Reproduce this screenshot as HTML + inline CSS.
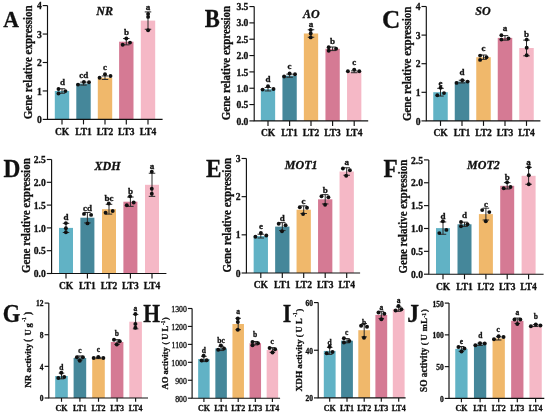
<!DOCTYPE html>
<html><head><meta charset="utf-8"><style>
html,body{margin:0;padding:0;background:#fff;}
svg{display:block;will-change:transform;}
text{font-family:"Liberation Serif",serif;stroke:#111;stroke-width:0.3px;}
</style></head><body>
<svg width="550" height="414" viewBox="0 0 550 414">
<rect width="550" height="414" fill="#fff"/>
<rect x="54.80" y="91.00" width="14.40" height="28.40" fill="#61b2c5"/>
<rect x="76.30" y="83.60" width="14.40" height="35.80" fill="#45879a"/>
<rect x="97.80" y="77.70" width="14.40" height="41.70" fill="#f0b86b"/>
<rect x="119.10" y="41.70" width="14.40" height="77.70" fill="#d57a94"/>
<rect x="140.80" y="20.60" width="14.40" height="98.80" fill="#f5b8c6"/>
<path d="M62.00,88.75V93.25M58.75,88.75H65.25M58.75,93.25H65.25" stroke="#2a2a2a" stroke-width="1.0" fill="none"/>
<circle cx="58.50" cy="89.00" r="1.95" fill="#111"/>
<circle cx="58.50" cy="93.50" r="1.95" fill="#111"/>
<circle cx="65.40" cy="91.10" r="1.95" fill="#111"/>
<path d="M83.50,82.12V85.08M80.25,82.12H86.75M80.25,85.08H86.75" stroke="#2a2a2a" stroke-width="1.0" fill="none"/>
<circle cx="78.00" cy="84.60" r="1.95" fill="#111"/>
<circle cx="83.90" cy="81.90" r="1.95" fill="#111"/>
<circle cx="89.00" cy="82.20" r="1.95" fill="#111"/>
<path d="M105.00,75.95V79.45M101.75,75.95H108.25M101.75,79.45H108.25" stroke="#2a2a2a" stroke-width="1.0" fill="none"/>
<circle cx="99.60" cy="77.70" r="1.95" fill="#111"/>
<circle cx="105.00" cy="74.20" r="1.95" fill="#111"/>
<circle cx="110.50" cy="76.00" r="1.95" fill="#111"/>
<path d="M126.30,38.55V44.85M123.05,38.55H129.55M123.05,44.85H129.55" stroke="#2a2a2a" stroke-width="1.0" fill="none"/>
<circle cx="122.70" cy="44.70" r="1.95" fill="#111"/>
<circle cx="126.30" cy="38.50" r="1.95" fill="#111"/>
<circle cx="130.00" cy="42.60" r="1.95" fill="#111"/>
<path d="M148.00,11.92V29.28M144.75,11.92H151.25M144.75,29.28H151.25" stroke="#2a2a2a" stroke-width="1.0" fill="none"/>
<circle cx="148.10" cy="13.90" r="1.95" fill="#111"/>
<circle cx="148.10" cy="16.90" r="1.95" fill="#111"/>
<circle cx="148.10" cy="30.20" r="1.95" fill="#111"/>
<text x="62.40" y="85.00" font-size="9" font-weight="bold" font-style="normal" text-anchor="middle" fill="#111" >d</text>
<text x="83.70" y="78.30" font-size="9" font-weight="bold" font-style="normal" text-anchor="middle" fill="#111" >cd</text>
<text x="105.00" y="70.40" font-size="9" font-weight="bold" font-style="normal" text-anchor="middle" fill="#111" >c</text>
<text x="126.60" y="35.10" font-size="9" font-weight="bold" font-style="normal" text-anchor="middle" fill="#111" >b</text>
<text x="148.00" y="10.00" font-size="9" font-weight="bold" font-style="normal" text-anchor="middle" fill="#111" >a</text>
<path d="M47.50,5.60V119.40H162.60" stroke="#111" stroke-width="1.15" fill="none"/>
<path d="M42.70,119.40H47.50" stroke="#111" stroke-width="1.15"/>
<text x="41.70" y="123.00" font-size="9.6" font-weight="bold" font-style="normal" text-anchor="end" fill="#111" >0</text>
<path d="M42.70,90.95H47.50" stroke="#111" stroke-width="1.15"/>
<text x="41.70" y="94.55" font-size="9.6" font-weight="bold" font-style="normal" text-anchor="end" fill="#111" >1</text>
<path d="M42.70,62.50H47.50" stroke="#111" stroke-width="1.15"/>
<text x="41.70" y="66.10" font-size="9.6" font-weight="bold" font-style="normal" text-anchor="end" fill="#111" >2</text>
<path d="M42.70,34.05H47.50" stroke="#111" stroke-width="1.15"/>
<text x="41.70" y="37.65" font-size="9.6" font-weight="bold" font-style="normal" text-anchor="end" fill="#111" >3</text>
<path d="M42.70,5.60H47.50" stroke="#111" stroke-width="1.15"/>
<text x="41.70" y="9.20" font-size="9.6" font-weight="bold" font-style="normal" text-anchor="end" fill="#111" >4</text>
<path d="M62.00,119.40V124.40" stroke="#111" stroke-width="1.15"/>
<text x="62.00" y="135.00" font-size="9.5" font-weight="bold" font-style="normal" text-anchor="middle" fill="#111" >CK</text>
<path d="M83.50,119.40V124.40" stroke="#111" stroke-width="1.15"/>
<text x="83.50" y="135.00" font-size="9.5" font-weight="bold" font-style="normal" text-anchor="middle" fill="#111" >LT1</text>
<path d="M105.00,119.40V124.40" stroke="#111" stroke-width="1.15"/>
<text x="105.00" y="135.00" font-size="9.5" font-weight="bold" font-style="normal" text-anchor="middle" fill="#111" >LT2</text>
<path d="M126.30,119.40V124.40" stroke="#111" stroke-width="1.15"/>
<text x="126.30" y="135.00" font-size="9.5" font-weight="bold" font-style="normal" text-anchor="middle" fill="#111" >LT3</text>
<path d="M148.00,119.40V124.40" stroke="#111" stroke-width="1.15"/>
<text x="148.00" y="135.00" font-size="9.5" font-weight="bold" font-style="normal" text-anchor="middle" fill="#111" >LT4</text>
<text x="104.60" y="14.70" font-size="12" font-weight="bold" font-style="italic" text-anchor="middle" fill="#111" >NR</text>
<text transform="translate(3.23,27.20) scale(0.918,1)" x="0" y="0" font-size="23.79" font-weight="bold" fill="#111">A</text>
<g transform="translate(32.00,62.30) rotate(-90)">
<text x="0" y="0" font-size="12.4" font-weight="bold" text-anchor="middle" textLength="113.8" lengthAdjust="spacingAndGlyphs" fill="#111">Gene relative expression</text>
</g>
<rect x="260.85" y="89.20" width="14.30" height="31.70" fill="#61b2c5"/>
<rect x="282.45" y="75.70" width="14.30" height="45.20" fill="#45879a"/>
<rect x="303.85" y="33.50" width="14.30" height="87.40" fill="#f0b86b"/>
<rect x="325.45" y="48.80" width="14.30" height="72.10" fill="#d57a94"/>
<rect x="347.05" y="71.80" width="14.30" height="49.10" fill="#f5b8c6"/>
<path d="M268.00,87.44V90.96M264.75,87.44H271.25M264.75,90.96H271.25" stroke="#2a2a2a" stroke-width="1.0" fill="none"/>
<circle cx="262.60" cy="89.60" r="1.95" fill="#111"/>
<circle cx="268.00" cy="86.30" r="1.95" fill="#111"/>
<circle cx="273.50" cy="89.00" r="1.95" fill="#111"/>
<path d="M289.60,74.15V77.25M286.35,74.15H292.85M286.35,77.25H292.85" stroke="#2a2a2a" stroke-width="1.0" fill="none"/>
<circle cx="284.10" cy="76.50" r="1.95" fill="#111"/>
<circle cx="289.60" cy="73.50" r="1.95" fill="#111"/>
<circle cx="295.00" cy="74.30" r="1.95" fill="#111"/>
<path d="M311.00,29.75V37.25M307.75,29.75H314.25M307.75,37.25H314.25" stroke="#2a2a2a" stroke-width="1.0" fill="none"/>
<circle cx="310.70" cy="29.90" r="1.95" fill="#111"/>
<circle cx="310.70" cy="33.50" r="1.95" fill="#111"/>
<circle cx="310.70" cy="37.40" r="1.95" fill="#111"/>
<path d="M332.60,47.00V50.60M329.35,47.00H335.85M329.35,50.60H335.85" stroke="#2a2a2a" stroke-width="1.0" fill="none"/>
<circle cx="328.70" cy="47.20" r="1.95" fill="#111"/>
<circle cx="328.70" cy="50.80" r="1.95" fill="#111"/>
<circle cx="336.10" cy="48.80" r="1.95" fill="#111"/>
<path d="M354.20,70.88V72.72M350.95,70.88H357.45M350.95,72.72H357.45" stroke="#2a2a2a" stroke-width="1.0" fill="none"/>
<circle cx="347.90" cy="71.20" r="1.95" fill="#111"/>
<circle cx="354.20" cy="69.60" r="1.95" fill="#111"/>
<circle cx="359.30" cy="71.20" r="1.95" fill="#111"/>
<text x="268.00" y="81.60" font-size="9" font-weight="bold" font-style="normal" text-anchor="middle" fill="#111" >d</text>
<text x="289.60" y="68.60" font-size="9" font-weight="bold" font-style="normal" text-anchor="middle" fill="#111" >c</text>
<text x="311.00" y="26.80" font-size="9" font-weight="bold" font-style="normal" text-anchor="middle" fill="#111" >a</text>
<text x="332.60" y="44.00" font-size="9" font-weight="bold" font-style="normal" text-anchor="middle" fill="#111" >b</text>
<text x="354.20" y="64.90" font-size="9" font-weight="bold" font-style="normal" text-anchor="middle" fill="#111" >c</text>
<path d="M254.20,6.56V120.90H368.20" stroke="#111" stroke-width="1.15" fill="none"/>
<path d="M249.40,120.90H254.20" stroke="#111" stroke-width="1.15"/>
<text x="248.40" y="124.50" font-size="9.6" font-weight="bold" font-style="normal" text-anchor="end" fill="#111" >0.0</text>
<path d="M249.40,104.56H254.20" stroke="#111" stroke-width="1.15"/>
<text x="248.40" y="108.16" font-size="9.6" font-weight="bold" font-style="normal" text-anchor="end" fill="#111" >0.5</text>
<path d="M249.40,88.23H254.20" stroke="#111" stroke-width="1.15"/>
<text x="248.40" y="91.83" font-size="9.6" font-weight="bold" font-style="normal" text-anchor="end" fill="#111" >1.0</text>
<path d="M249.40,71.90H254.20" stroke="#111" stroke-width="1.15"/>
<text x="248.40" y="75.50" font-size="9.6" font-weight="bold" font-style="normal" text-anchor="end" fill="#111" >1.5</text>
<path d="M249.40,55.56H254.20" stroke="#111" stroke-width="1.15"/>
<text x="248.40" y="59.16" font-size="9.6" font-weight="bold" font-style="normal" text-anchor="end" fill="#111" >2.0</text>
<path d="M249.40,39.22H254.20" stroke="#111" stroke-width="1.15"/>
<text x="248.40" y="42.82" font-size="9.6" font-weight="bold" font-style="normal" text-anchor="end" fill="#111" >2.5</text>
<path d="M249.40,22.89H254.20" stroke="#111" stroke-width="1.15"/>
<text x="248.40" y="26.49" font-size="9.6" font-weight="bold" font-style="normal" text-anchor="end" fill="#111" >3.0</text>
<path d="M249.40,6.56H254.20" stroke="#111" stroke-width="1.15"/>
<text x="248.40" y="10.16" font-size="9.6" font-weight="bold" font-style="normal" text-anchor="end" fill="#111" >3.5</text>
<path d="M268.00,120.90V125.90" stroke="#111" stroke-width="1.15"/>
<text x="268.00" y="136.10" font-size="9.5" font-weight="bold" font-style="normal" text-anchor="middle" fill="#111" >CK</text>
<path d="M289.60,120.90V125.90" stroke="#111" stroke-width="1.15"/>
<text x="289.60" y="136.10" font-size="9.5" font-weight="bold" font-style="normal" text-anchor="middle" fill="#111" >LT1</text>
<path d="M311.00,120.90V125.90" stroke="#111" stroke-width="1.15"/>
<text x="311.00" y="136.10" font-size="9.5" font-weight="bold" font-style="normal" text-anchor="middle" fill="#111" >LT2</text>
<path d="M332.60,120.90V125.90" stroke="#111" stroke-width="1.15"/>
<text x="332.60" y="136.10" font-size="9.5" font-weight="bold" font-style="normal" text-anchor="middle" fill="#111" >LT3</text>
<path d="M354.20,120.90V125.90" stroke="#111" stroke-width="1.15"/>
<text x="354.20" y="136.10" font-size="9.5" font-weight="bold" font-style="normal" text-anchor="middle" fill="#111" >LT4</text>
<text x="311.40" y="17.50" font-size="12" font-weight="bold" font-style="italic" text-anchor="middle" fill="#111" >AO</text>
<text transform="translate(204.86,27.28) scale(0.928,1)" x="0" y="0" font-size="24.32" font-weight="bold" fill="#111">B</text>
<g transform="translate(229.60,63.05) rotate(-90)">
<text x="0" y="0" font-size="12.4" font-weight="bold" text-anchor="middle" textLength="114.3" lengthAdjust="spacingAndGlyphs" fill="#111">Gene relative expression</text>
</g>
<rect x="433.25" y="92.20" width="14.50" height="28.70" fill="#61b2c5"/>
<rect x="454.75" y="81.60" width="14.50" height="39.30" fill="#45879a"/>
<rect x="476.25" y="57.20" width="14.50" height="63.70" fill="#f0b86b"/>
<rect x="497.75" y="37.90" width="14.50" height="83.00" fill="#d57a94"/>
<rect x="519.25" y="48.00" width="14.50" height="72.90" fill="#f5b8c6"/>
<path d="M440.50,88.34V96.06M437.25,88.34H443.75M437.25,96.06H443.75" stroke="#2a2a2a" stroke-width="1.0" fill="none"/>
<circle cx="437.30" cy="95.30" r="1.95" fill="#111"/>
<circle cx="440.60" cy="87.80" r="1.95" fill="#111"/>
<circle cx="444.00" cy="93.10" r="1.95" fill="#111"/>
<path d="M462.00,80.25V82.95M458.75,80.25H465.25M458.75,82.95H465.25" stroke="#2a2a2a" stroke-width="1.0" fill="none"/>
<circle cx="456.60" cy="82.90" r="1.95" fill="#111"/>
<circle cx="462.30" cy="80.20" r="1.95" fill="#111"/>
<circle cx="467.60" cy="81.60" r="1.95" fill="#111"/>
<path d="M483.50,55.03V59.37M480.25,55.03H486.75M480.25,59.37H486.75" stroke="#2a2a2a" stroke-width="1.0" fill="none"/>
<circle cx="480.10" cy="55.60" r="1.95" fill="#111"/>
<circle cx="480.10" cy="59.90" r="1.95" fill="#111"/>
<circle cx="486.50" cy="57.20" r="1.95" fill="#111"/>
<path d="M505.00,35.61V40.19M501.75,35.61H508.25M501.75,40.19H508.25" stroke="#2a2a2a" stroke-width="1.0" fill="none"/>
<circle cx="501.40" cy="35.20" r="1.95" fill="#111"/>
<circle cx="501.40" cy="39.60" r="1.95" fill="#111"/>
<circle cx="508.50" cy="38.50" r="1.95" fill="#111"/>
<path d="M526.50,40.15V55.85M523.25,40.15H529.75M523.25,55.85H529.75" stroke="#2a2a2a" stroke-width="1.0" fill="none"/>
<circle cx="526.70" cy="39.60" r="1.95" fill="#111"/>
<circle cx="526.70" cy="47.70" r="1.95" fill="#111"/>
<circle cx="526.70" cy="55.30" r="1.95" fill="#111"/>
<text x="440.60" y="86.20" font-size="9" font-weight="bold" font-style="normal" text-anchor="middle" fill="#111" >e</text>
<text x="462.00" y="75.30" font-size="9" font-weight="bold" font-style="normal" text-anchor="middle" fill="#111" >d</text>
<text x="483.50" y="51.00" font-size="9" font-weight="bold" font-style="normal" text-anchor="middle" fill="#111" >c</text>
<text x="505.00" y="31.40" font-size="9" font-weight="bold" font-style="normal" text-anchor="middle" fill="#111" >a</text>
<text x="526.50" y="36.50" font-size="9" font-weight="bold" font-style="normal" text-anchor="middle" fill="#111" >b</text>
<path d="M426.30,6.50V120.90H540.40" stroke="#111" stroke-width="1.15" fill="none"/>
<path d="M421.50,120.90H426.30" stroke="#111" stroke-width="1.15"/>
<text x="420.50" y="124.50" font-size="9.6" font-weight="bold" font-style="normal" text-anchor="end" fill="#111" >0</text>
<path d="M421.50,92.30H426.30" stroke="#111" stroke-width="1.15"/>
<text x="420.50" y="95.90" font-size="9.6" font-weight="bold" font-style="normal" text-anchor="end" fill="#111" >1</text>
<path d="M421.50,63.70H426.30" stroke="#111" stroke-width="1.15"/>
<text x="420.50" y="67.30" font-size="9.6" font-weight="bold" font-style="normal" text-anchor="end" fill="#111" >2</text>
<path d="M421.50,35.10H426.30" stroke="#111" stroke-width="1.15"/>
<text x="420.50" y="38.70" font-size="9.6" font-weight="bold" font-style="normal" text-anchor="end" fill="#111" >3</text>
<path d="M421.50,6.50H426.30" stroke="#111" stroke-width="1.15"/>
<text x="420.50" y="10.10" font-size="9.6" font-weight="bold" font-style="normal" text-anchor="end" fill="#111" >4</text>
<path d="M440.50,120.90V125.90" stroke="#111" stroke-width="1.15"/>
<text x="440.50" y="136.10" font-size="9.5" font-weight="bold" font-style="normal" text-anchor="middle" fill="#111" >CK</text>
<path d="M462.00,120.90V125.90" stroke="#111" stroke-width="1.15"/>
<text x="462.00" y="136.10" font-size="9.5" font-weight="bold" font-style="normal" text-anchor="middle" fill="#111" >LT1</text>
<path d="M483.50,120.90V125.90" stroke="#111" stroke-width="1.15"/>
<text x="483.50" y="136.10" font-size="9.5" font-weight="bold" font-style="normal" text-anchor="middle" fill="#111" >LT2</text>
<path d="M505.00,120.90V125.90" stroke="#111" stroke-width="1.15"/>
<text x="505.00" y="136.10" font-size="9.5" font-weight="bold" font-style="normal" text-anchor="middle" fill="#111" >LT3</text>
<path d="M526.50,120.90V125.90" stroke="#111" stroke-width="1.15"/>
<text x="526.50" y="136.10" font-size="9.5" font-weight="bold" font-style="normal" text-anchor="middle" fill="#111" >LT4</text>
<text x="482.90" y="15.40" font-size="12" font-weight="bold" font-style="italic" text-anchor="middle" fill="#111" >SO</text>
<text transform="translate(381.94,27.65) scale(1.021,1)" x="0" y="0" font-size="24.70" font-weight="bold" fill="#111">C</text>
<g transform="translate(411.30,63.80) rotate(-90)">
<text x="0" y="0" font-size="12.4" font-weight="bold" text-anchor="middle" textLength="114.6" lengthAdjust="spacingAndGlyphs" fill="#111">Gene relative expression</text>
</g>
<rect x="59.00" y="227.90" width="14.00" height="45.60" fill="#61b2c5"/>
<rect x="80.40" y="217.70" width="14.00" height="55.80" fill="#45879a"/>
<rect x="102.00" y="209.20" width="14.00" height="64.30" fill="#f0b86b"/>
<rect x="123.40" y="201.70" width="14.00" height="71.80" fill="#d57a94"/>
<rect x="145.00" y="184.80" width="14.00" height="88.70" fill="#f5b8c6"/>
<path d="M66.00,223.33V232.47M62.75,223.33H69.25M62.75,232.47H69.25" stroke="#2a2a2a" stroke-width="1.0" fill="none"/>
<circle cx="65.90" cy="223.10" r="1.95" fill="#111"/>
<circle cx="65.90" cy="228.30" r="1.95" fill="#111"/>
<circle cx="65.90" cy="232.20" r="1.95" fill="#111"/>
<path d="M87.40,212.48V222.92M84.15,212.48H90.65M84.15,222.92H90.65" stroke="#2a2a2a" stroke-width="1.0" fill="none"/>
<circle cx="84.00" cy="213.90" r="1.95" fill="#111"/>
<circle cx="87.50" cy="223.40" r="1.95" fill="#111"/>
<circle cx="91.10" cy="214.90" r="1.95" fill="#111"/>
<path d="M109.00,204.30V214.10M105.75,204.30H112.25M105.75,214.10H112.25" stroke="#2a2a2a" stroke-width="1.0" fill="none"/>
<circle cx="105.60" cy="212.70" r="1.95" fill="#111"/>
<circle cx="108.80" cy="203.50" r="1.95" fill="#111"/>
<circle cx="112.70" cy="211.00" r="1.95" fill="#111"/>
<path d="M130.40,197.04V206.36M127.15,197.04H133.65M127.15,206.36H133.65" stroke="#2a2a2a" stroke-width="1.0" fill="none"/>
<circle cx="126.80" cy="205.30" r="1.95" fill="#111"/>
<circle cx="130.10" cy="196.20" r="1.95" fill="#111"/>
<circle cx="133.70" cy="202.50" r="1.95" fill="#111"/>
<path d="M152.00,173.23V196.37M148.75,173.23H155.25M148.75,196.37H155.25" stroke="#2a2a2a" stroke-width="1.0" fill="none"/>
<circle cx="151.80" cy="171.70" r="1.95" fill="#111"/>
<circle cx="151.80" cy="188.70" r="1.95" fill="#111"/>
<circle cx="151.80" cy="193.80" r="1.95" fill="#111"/>
<text x="65.90" y="219.80" font-size="9" font-weight="bold" font-style="normal" text-anchor="middle" fill="#111" >d</text>
<text x="87.40" y="211.30" font-size="9" font-weight="bold" font-style="normal" text-anchor="middle" fill="#111" >cd</text>
<text x="109.00" y="200.90" font-size="9" font-weight="bold" font-style="normal" text-anchor="middle" fill="#111" >bc</text>
<text x="130.40" y="193.60" font-size="9" font-weight="bold" font-style="normal" text-anchor="middle" fill="#111" >b</text>
<text x="152.00" y="168.70" font-size="9" font-weight="bold" font-style="normal" text-anchor="middle" fill="#111" >a</text>
<path d="M51.60,159.50V273.50H166.40" stroke="#111" stroke-width="1.15" fill="none"/>
<path d="M46.80,273.50H51.60" stroke="#111" stroke-width="1.15"/>
<text x="45.80" y="277.10" font-size="9.6" font-weight="bold" font-style="normal" text-anchor="end" fill="#111" >0.0</text>
<path d="M46.80,250.70H51.60" stroke="#111" stroke-width="1.15"/>
<text x="45.80" y="254.30" font-size="9.6" font-weight="bold" font-style="normal" text-anchor="end" fill="#111" >0.5</text>
<path d="M46.80,227.90H51.60" stroke="#111" stroke-width="1.15"/>
<text x="45.80" y="231.50" font-size="9.6" font-weight="bold" font-style="normal" text-anchor="end" fill="#111" >1.0</text>
<path d="M46.80,205.10H51.60" stroke="#111" stroke-width="1.15"/>
<text x="45.80" y="208.70" font-size="9.6" font-weight="bold" font-style="normal" text-anchor="end" fill="#111" >1.5</text>
<path d="M46.80,182.30H51.60" stroke="#111" stroke-width="1.15"/>
<text x="45.80" y="185.90" font-size="9.6" font-weight="bold" font-style="normal" text-anchor="end" fill="#111" >2.0</text>
<path d="M46.80,159.50H51.60" stroke="#111" stroke-width="1.15"/>
<text x="45.80" y="163.10" font-size="9.6" font-weight="bold" font-style="normal" text-anchor="end" fill="#111" >2.5</text>
<path d="M66.00,273.50V278.50" stroke="#111" stroke-width="1.15"/>
<text x="66.00" y="289.10" font-size="9.5" font-weight="bold" font-style="normal" text-anchor="middle" fill="#111" >CK</text>
<path d="M87.40,273.50V278.50" stroke="#111" stroke-width="1.15"/>
<text x="87.40" y="289.10" font-size="9.5" font-weight="bold" font-style="normal" text-anchor="middle" fill="#111" >LT1</text>
<path d="M109.00,273.50V278.50" stroke="#111" stroke-width="1.15"/>
<text x="109.00" y="289.10" font-size="9.5" font-weight="bold" font-style="normal" text-anchor="middle" fill="#111" >LT2</text>
<path d="M130.40,273.50V278.50" stroke="#111" stroke-width="1.15"/>
<text x="130.40" y="289.10" font-size="9.5" font-weight="bold" font-style="normal" text-anchor="middle" fill="#111" >LT3</text>
<path d="M152.00,273.50V278.50" stroke="#111" stroke-width="1.15"/>
<text x="152.00" y="289.10" font-size="9.5" font-weight="bold" font-style="normal" text-anchor="middle" fill="#111" >LT4</text>
<text x="107.50" y="170.30" font-size="12" font-weight="bold" font-style="italic" text-anchor="middle" fill="#111" >XDH</text>
<text transform="translate(3.43,177.20) scale(0.962,1)" x="0" y="0" font-size="24.27" font-weight="bold" fill="#111">D</text>
<g transform="translate(29.80,215.60) rotate(-90)">
<text x="0" y="0" font-size="12.4" font-weight="bold" text-anchor="middle" textLength="114.8" lengthAdjust="spacingAndGlyphs" fill="#111">Gene relative expression</text>
</g>
<rect x="253.65" y="236.10" width="14.30" height="36.90" fill="#61b2c5"/>
<rect x="275.15" y="226.60" width="14.30" height="46.40" fill="#45879a"/>
<rect x="296.55" y="209.70" width="14.30" height="63.30" fill="#f0b86b"/>
<rect x="318.05" y="199.30" width="14.30" height="73.70" fill="#d57a94"/>
<rect x="339.55" y="171.50" width="14.30" height="101.50" fill="#f5b8c6"/>
<path d="M260.80,234.21V237.99M257.55,234.21H264.05M257.55,237.99H264.05" stroke="#2a2a2a" stroke-width="1.0" fill="none"/>
<circle cx="255.40" cy="236.70" r="1.95" fill="#111"/>
<circle cx="260.90" cy="233.00" r="1.95" fill="#111"/>
<circle cx="266.30" cy="235.50" r="1.95" fill="#111"/>
<path d="M282.30,222.63V230.57M279.05,222.63H285.55M279.05,230.57H285.55" stroke="#2a2a2a" stroke-width="1.0" fill="none"/>
<circle cx="278.70" cy="223.70" r="1.95" fill="#111"/>
<circle cx="282.00" cy="231.20" r="1.95" fill="#111"/>
<circle cx="285.60" cy="225.20" r="1.95" fill="#111"/>
<path d="M303.70,205.88V213.52M300.45,205.88H306.95M300.45,213.52H306.95" stroke="#2a2a2a" stroke-width="1.0" fill="none"/>
<circle cx="299.80" cy="207.30" r="1.95" fill="#111"/>
<circle cx="303.10" cy="214.10" r="1.95" fill="#111"/>
<circle cx="307.00" cy="207.70" r="1.95" fill="#111"/>
<path d="M325.20,194.65V203.95M321.95,194.65H328.45M321.95,203.95H328.45" stroke="#2a2a2a" stroke-width="1.0" fill="none"/>
<circle cx="321.50" cy="196.20" r="1.95" fill="#111"/>
<circle cx="325.10" cy="204.70" r="1.95" fill="#111"/>
<circle cx="328.40" cy="197.20" r="1.95" fill="#111"/>
<path d="M346.70,167.75V175.25M343.45,167.75H349.95M343.45,175.25H349.95" stroke="#2a2a2a" stroke-width="1.0" fill="none"/>
<circle cx="342.90" cy="168.50" r="1.95" fill="#111"/>
<circle cx="346.20" cy="175.70" r="1.95" fill="#111"/>
<circle cx="349.90" cy="170.30" r="1.95" fill="#111"/>
<text x="260.90" y="228.80" font-size="9" font-weight="bold" font-style="normal" text-anchor="middle" fill="#111" >e</text>
<text x="282.20" y="220.60" font-size="9" font-weight="bold" font-style="normal" text-anchor="middle" fill="#111" >d</text>
<text x="303.60" y="203.70" font-size="9" font-weight="bold" font-style="normal" text-anchor="middle" fill="#111" >c</text>
<text x="325.20" y="193.20" font-size="9" font-weight="bold" font-style="normal" text-anchor="middle" fill="#111" >b</text>
<text x="346.70" y="165.40" font-size="9" font-weight="bold" font-style="normal" text-anchor="middle" fill="#111" >a</text>
<path d="M246.40,158.49V273.00H360.10" stroke="#111" stroke-width="1.15" fill="none"/>
<path d="M241.60,273.00H246.40" stroke="#111" stroke-width="1.15"/>
<text x="240.60" y="276.60" font-size="9.6" font-weight="bold" font-style="normal" text-anchor="end" fill="#111" >0</text>
<path d="M241.60,234.83H246.40" stroke="#111" stroke-width="1.15"/>
<text x="240.60" y="238.43" font-size="9.6" font-weight="bold" font-style="normal" text-anchor="end" fill="#111" >1</text>
<path d="M241.60,196.66H246.40" stroke="#111" stroke-width="1.15"/>
<text x="240.60" y="200.26" font-size="9.6" font-weight="bold" font-style="normal" text-anchor="end" fill="#111" >2</text>
<path d="M241.60,158.49H246.40" stroke="#111" stroke-width="1.15"/>
<text x="240.60" y="162.09" font-size="9.6" font-weight="bold" font-style="normal" text-anchor="end" fill="#111" >3</text>
<path d="M260.80,273.00V278.00" stroke="#111" stroke-width="1.15"/>
<text x="260.80" y="287.90" font-size="9.5" font-weight="bold" font-style="normal" text-anchor="middle" fill="#111" >CK</text>
<path d="M282.30,273.00V278.00" stroke="#111" stroke-width="1.15"/>
<text x="282.30" y="287.90" font-size="9.5" font-weight="bold" font-style="normal" text-anchor="middle" fill="#111" >LT1</text>
<path d="M303.70,273.00V278.00" stroke="#111" stroke-width="1.15"/>
<text x="303.70" y="287.90" font-size="9.5" font-weight="bold" font-style="normal" text-anchor="middle" fill="#111" >LT2</text>
<path d="M325.20,273.00V278.00" stroke="#111" stroke-width="1.15"/>
<text x="325.20" y="287.90" font-size="9.5" font-weight="bold" font-style="normal" text-anchor="middle" fill="#111" >LT3</text>
<path d="M346.70,273.00V278.00" stroke="#111" stroke-width="1.15"/>
<text x="346.70" y="287.90" font-size="9.5" font-weight="bold" font-style="normal" text-anchor="middle" fill="#111" >LT4</text>
<text x="301.20" y="168.90" font-size="12" font-weight="bold" font-style="italic" text-anchor="middle" fill="#111" >MOT1</text>
<text transform="translate(206.05,177.20) scale(0.954,1)" x="0" y="0" font-size="24.27" font-weight="bold" fill="#111">E</text>
<g transform="translate(231.10,215.20) rotate(-90)">
<text x="0" y="0" font-size="12.4" font-weight="bold" text-anchor="middle" textLength="114.4" lengthAdjust="spacingAndGlyphs" fill="#111">Gene relative expression</text>
</g>
<rect x="436.00" y="228.10" width="14.00" height="46.10" fill="#61b2c5"/>
<rect x="457.50" y="224.30" width="14.00" height="49.90" fill="#45879a"/>
<rect x="478.90" y="214.10" width="14.00" height="60.10" fill="#f0b86b"/>
<rect x="500.20" y="185.80" width="14.00" height="88.40" fill="#d57a94"/>
<rect x="521.60" y="175.80" width="14.00" height="98.40" fill="#f5b8c6"/>
<path d="M443.00,221.94V234.26M439.75,221.94H446.25M439.75,234.26H446.25" stroke="#2a2a2a" stroke-width="1.0" fill="none"/>
<circle cx="439.30" cy="233.10" r="1.95" fill="#111"/>
<circle cx="442.90" cy="221.20" r="1.95" fill="#111"/>
<circle cx="446.40" cy="229.90" r="1.95" fill="#111"/>
<path d="M464.50,222.15V226.45M461.25,222.15H467.75M461.25,226.45H467.75" stroke="#2a2a2a" stroke-width="1.0" fill="none"/>
<circle cx="461.00" cy="222.00" r="1.95" fill="#111"/>
<circle cx="461.00" cy="226.30" r="1.95" fill="#111"/>
<circle cx="467.50" cy="224.30" r="1.95" fill="#111"/>
<path d="M485.90,208.18V220.02M482.65,208.18H489.15M482.65,220.02H489.15" stroke="#2a2a2a" stroke-width="1.0" fill="none"/>
<circle cx="482.20" cy="210.10" r="1.95" fill="#111"/>
<circle cx="485.80" cy="221.20" r="1.95" fill="#111"/>
<circle cx="489.30" cy="212.10" r="1.95" fill="#111"/>
<path d="M507.20,182.63V188.97M503.95,182.63H510.45M503.95,188.97H510.45" stroke="#2a2a2a" stroke-width="1.0" fill="none"/>
<circle cx="503.70" cy="188.20" r="1.95" fill="#111"/>
<circle cx="507.10" cy="182.20" r="1.95" fill="#111"/>
<circle cx="510.50" cy="187.00" r="1.95" fill="#111"/>
<path d="M528.60,167.35V184.25M525.35,167.35H531.85M525.35,184.25H531.85" stroke="#2a2a2a" stroke-width="1.0" fill="none"/>
<circle cx="528.80" cy="167.30" r="1.95" fill="#111"/>
<circle cx="528.80" cy="175.30" r="1.95" fill="#111"/>
<circle cx="528.80" cy="184.20" r="1.95" fill="#111"/>
<text x="442.90" y="218.60" font-size="9" font-weight="bold" font-style="normal" text-anchor="middle" fill="#111" >d</text>
<text x="464.50" y="218.00" font-size="9" font-weight="bold" font-style="normal" text-anchor="middle" fill="#111" >d</text>
<text x="485.90" y="206.80" font-size="9" font-weight="bold" font-style="normal" text-anchor="middle" fill="#111" >c</text>
<text x="507.20" y="179.80" font-size="9" font-weight="bold" font-style="normal" text-anchor="middle" fill="#111" >b</text>
<text x="528.60" y="164.90" font-size="9" font-weight="bold" font-style="normal" text-anchor="middle" fill="#111" >a</text>
<path d="M428.80,159.90V274.20H543.60" stroke="#111" stroke-width="1.15" fill="none"/>
<path d="M424.00,274.20H428.80" stroke="#111" stroke-width="1.15"/>
<text x="423.00" y="277.80" font-size="9.6" font-weight="bold" font-style="normal" text-anchor="end" fill="#111" >0.0</text>
<path d="M424.00,251.34H428.80" stroke="#111" stroke-width="1.15"/>
<text x="423.00" y="254.94" font-size="9.6" font-weight="bold" font-style="normal" text-anchor="end" fill="#111" >0.5</text>
<path d="M424.00,228.48H428.80" stroke="#111" stroke-width="1.15"/>
<text x="423.00" y="232.08" font-size="9.6" font-weight="bold" font-style="normal" text-anchor="end" fill="#111" >1.0</text>
<path d="M424.00,205.62H428.80" stroke="#111" stroke-width="1.15"/>
<text x="423.00" y="209.22" font-size="9.6" font-weight="bold" font-style="normal" text-anchor="end" fill="#111" >1.5</text>
<path d="M424.00,182.76H428.80" stroke="#111" stroke-width="1.15"/>
<text x="423.00" y="186.36" font-size="9.6" font-weight="bold" font-style="normal" text-anchor="end" fill="#111" >2.0</text>
<path d="M424.00,159.90H428.80" stroke="#111" stroke-width="1.15"/>
<text x="423.00" y="163.50" font-size="9.6" font-weight="bold" font-style="normal" text-anchor="end" fill="#111" >2.5</text>
<path d="M443.00,274.20V279.20" stroke="#111" stroke-width="1.15"/>
<text x="443.00" y="289.80" font-size="9.5" font-weight="bold" font-style="normal" text-anchor="middle" fill="#111" >CK</text>
<path d="M464.50,274.20V279.20" stroke="#111" stroke-width="1.15"/>
<text x="464.50" y="289.80" font-size="9.5" font-weight="bold" font-style="normal" text-anchor="middle" fill="#111" >LT1</text>
<path d="M485.90,274.20V279.20" stroke="#111" stroke-width="1.15"/>
<text x="485.90" y="289.80" font-size="9.5" font-weight="bold" font-style="normal" text-anchor="middle" fill="#111" >LT2</text>
<path d="M507.20,274.20V279.20" stroke="#111" stroke-width="1.15"/>
<text x="507.20" y="289.80" font-size="9.5" font-weight="bold" font-style="normal" text-anchor="middle" fill="#111" >LT3</text>
<path d="M528.60,274.20V279.20" stroke="#111" stroke-width="1.15"/>
<text x="528.60" y="289.80" font-size="9.5" font-weight="bold" font-style="normal" text-anchor="middle" fill="#111" >LT4</text>
<text x="483.40" y="169.30" font-size="12" font-weight="bold" font-style="italic" text-anchor="middle" fill="#111" >MOT2</text>
<text transform="translate(383.55,177.20) scale(0.959,1)" x="0" y="0" font-size="24.27" font-weight="bold" fill="#111">F</text>
<g transform="translate(407.40,216.60) rotate(-90)">
<text x="0" y="0" font-size="12.4" font-weight="bold" text-anchor="middle" textLength="113.6" lengthAdjust="spacingAndGlyphs" fill="#111">Gene relative expression</text>
</g>
<rect x="55.20" y="376.00" width="12.60" height="22.00" fill="#61b2c5"/>
<rect x="73.60" y="358.00" width="12.60" height="40.00" fill="#45879a"/>
<rect x="92.20" y="358.00" width="12.60" height="40.00" fill="#f0b86b"/>
<rect x="110.80" y="342.00" width="12.60" height="56.00" fill="#d57a94"/>
<rect x="129.30" y="321.70" width="12.60" height="76.30" fill="#f5b8c6"/>
<path d="M61.50,373.16V378.84M58.75,373.16H64.25M58.75,378.84H64.25" stroke="#2a2a2a" stroke-width="1.0" fill="none"/>
<circle cx="58.30" cy="378.00" r="2.0" fill="#111"/>
<circle cx="61.30" cy="372.70" r="2.0" fill="#111"/>
<circle cx="64.20" cy="377.10" r="2.0" fill="#111"/>
<path d="M79.90,355.98V360.02M77.15,355.98H82.65M77.15,360.02H82.65" stroke="#2a2a2a" stroke-width="1.0" fill="none"/>
<circle cx="76.90" cy="357.20" r="2.0" fill="#111"/>
<circle cx="79.80" cy="360.70" r="2.0" fill="#111"/>
<circle cx="82.90" cy="357.20" r="2.0" fill="#111"/>
<path d="M98.50,357.36V358.64M95.75,357.36H101.25M95.75,358.64H101.25" stroke="#2a2a2a" stroke-width="1.0" fill="none"/>
<circle cx="93.70" cy="358.00" r="2.0" fill="#111"/>
<circle cx="98.30" cy="356.90" r="2.0" fill="#111"/>
<circle cx="103.30" cy="358.00" r="2.0" fill="#111"/>
<path d="M117.10,339.65V344.35M114.35,339.65H119.85M114.35,344.35H119.85" stroke="#2a2a2a" stroke-width="1.0" fill="none"/>
<circle cx="114.00" cy="339.80" r="2.0" fill="#111"/>
<circle cx="116.80" cy="344.40" r="2.0" fill="#111"/>
<circle cx="119.70" cy="341.30" r="2.0" fill="#111"/>
<path d="M135.60,314.57V328.83M132.85,314.57H138.35M132.85,328.83H138.35" stroke="#2a2a2a" stroke-width="1.0" fill="none"/>
<circle cx="135.40" cy="313.90" r="2.0" fill="#111"/>
<circle cx="135.40" cy="323.90" r="2.0" fill="#111"/>
<circle cx="135.40" cy="327.70" r="2.0" fill="#111"/>
<text x="61.30" y="370.00" font-size="7.5" font-weight="bold" font-style="normal" text-anchor="middle" fill="#111" >d</text>
<text x="79.90" y="352.50" font-size="7.5" font-weight="bold" font-style="normal" text-anchor="middle" fill="#111" >c</text>
<text x="98.50" y="352.00" font-size="7.5" font-weight="bold" font-style="normal" text-anchor="middle" fill="#111" >c</text>
<text x="116.80" y="336.20" font-size="7.5" font-weight="bold" font-style="normal" text-anchor="middle" fill="#111" >b</text>
<text x="135.40" y="310.60" font-size="7.5" font-weight="bold" font-style="normal" text-anchor="middle" fill="#111" >a</text>
<path d="M48.80,303.08V398.00H148.00" stroke="#111" stroke-width="1.15" fill="none"/>
<path d="M44.60,398.00H48.80" stroke="#111" stroke-width="1.15"/>
<text x="43.60" y="401.40" font-size="7.5" font-weight="bold" font-style="normal" text-anchor="end" fill="#111" >0</text>
<path d="M44.60,366.36H48.80" stroke="#111" stroke-width="1.15"/>
<text x="43.60" y="369.76" font-size="7.5" font-weight="bold" font-style="normal" text-anchor="end" fill="#111" >4</text>
<path d="M44.60,334.72H48.80" stroke="#111" stroke-width="1.15"/>
<text x="43.60" y="338.12" font-size="7.5" font-weight="bold" font-style="normal" text-anchor="end" fill="#111" >8</text>
<path d="M44.60,303.08H48.80" stroke="#111" stroke-width="1.15"/>
<text x="43.60" y="306.48" font-size="7.5" font-weight="bold" font-style="normal" text-anchor="end" fill="#111" >12</text>
<path d="M61.50,398.00V401.80" stroke="#111" stroke-width="1.15"/>
<text x="61.50" y="411.00" font-size="8" font-weight="bold" font-style="normal" text-anchor="middle" fill="#111" >CK</text>
<path d="M79.90,398.00V401.80" stroke="#111" stroke-width="1.15"/>
<text x="79.90" y="411.00" font-size="8" font-weight="bold" font-style="normal" text-anchor="middle" fill="#111" >LT1</text>
<path d="M98.50,398.00V401.80" stroke="#111" stroke-width="1.15"/>
<text x="98.50" y="411.00" font-size="8" font-weight="bold" font-style="normal" text-anchor="middle" fill="#111" >LT2</text>
<path d="M117.10,398.00V401.80" stroke="#111" stroke-width="1.15"/>
<text x="117.10" y="411.00" font-size="8" font-weight="bold" font-style="normal" text-anchor="middle" fill="#111" >LT3</text>
<path d="M135.60,398.00V401.80" stroke="#111" stroke-width="1.15"/>
<text x="135.60" y="411.00" font-size="8" font-weight="bold" font-style="normal" text-anchor="middle" fill="#111" >LT4</text>
<text transform="translate(2.77,322.15) scale(0.895,1)" x="0" y="0" font-size="25.22" font-weight="bold" fill="#111">G</text>
<g transform="translate(31.30,0) rotate(-90)">
<text x="-387.80" y="0.00" font-size="9" font-weight="bold" text-anchor="start" textLength="44.20" lengthAdjust="spacingAndGlyphs" fill="#111">NR activity</text>
<text x="-340.50" y="0.00" font-size="9.5" font-weight="bold" text-anchor="middle" fill="#111">(</text>
<text x="-332.50" y="0.00" font-size="8.5" font-weight="bold" text-anchor="middle" fill="#111">U</text>
<text x="-325.30" y="0.00" font-size="8.5" font-weight="bold" text-anchor="middle" fill="#111">g</text>
<text x="-319.50" y="-5.80" font-size="5.5" font-weight="bold" text-anchor="middle" fill="#111">-1</text>
<text x="-313.30" y="0.00" font-size="9.5" font-weight="bold" text-anchor="middle" fill="#111">)</text>
</g>
<rect x="198.15" y="359.00" width="11.50" height="39.20" fill="#61b2c5"/>
<rect x="215.35" y="348.40" width="11.50" height="49.80" fill="#45879a"/>
<rect x="232.45" y="324.00" width="11.50" height="74.20" fill="#f0b86b"/>
<rect x="249.55" y="343.20" width="11.50" height="55.00" fill="#d57a94"/>
<rect x="266.65" y="350.00" width="11.50" height="48.20" fill="#f5b8c6"/>
<path d="M203.90,356.37V361.63M201.15,356.37H206.65M201.15,361.63H206.65" stroke="#2a2a2a" stroke-width="1.0" fill="none"/>
<circle cx="201.60" cy="360.50" r="2.0" fill="#111"/>
<circle cx="203.60" cy="355.80" r="2.0" fill="#111"/>
<circle cx="206.70" cy="360.20" r="2.0" fill="#111"/>
<path d="M221.10,346.25V350.55M218.35,346.25H223.85M218.35,350.55H223.85" stroke="#2a2a2a" stroke-width="1.0" fill="none"/>
<circle cx="218.20" cy="349.80" r="2.0" fill="#111"/>
<circle cx="220.90" cy="345.60" r="2.0" fill="#111"/>
<circle cx="224.00" cy="348.50" r="2.0" fill="#111"/>
<path d="M238.20,318.31V329.69M235.45,318.31H240.95M235.45,329.69H240.95" stroke="#2a2a2a" stroke-width="1.0" fill="none"/>
<circle cx="237.80" cy="318.60" r="2.0" fill="#111"/>
<circle cx="237.80" cy="322.00" r="2.0" fill="#111"/>
<circle cx="237.80" cy="329.70" r="2.0" fill="#111"/>
<path d="M255.30,341.48V344.92M252.55,341.48H258.05M252.55,344.92H258.05" stroke="#2a2a2a" stroke-width="1.0" fill="none"/>
<circle cx="252.50" cy="341.90" r="2.0" fill="#111"/>
<circle cx="252.50" cy="345.30" r="2.0" fill="#111"/>
<circle cx="258.00" cy="343.20" r="2.0" fill="#111"/>
<path d="M272.40,347.67V352.33M269.65,347.67H275.15M269.65,352.33H275.15" stroke="#2a2a2a" stroke-width="1.0" fill="none"/>
<circle cx="269.60" cy="348.00" r="2.0" fill="#111"/>
<circle cx="272.50" cy="352.50" r="2.0" fill="#111"/>
<circle cx="275.10" cy="349.20" r="2.0" fill="#111"/>
<text x="203.80" y="353.20" font-size="7.5" font-weight="bold" font-style="normal" text-anchor="middle" fill="#111" >d</text>
<text x="221.10" y="342.50" font-size="7.5" font-weight="bold" font-style="normal" text-anchor="middle" fill="#111" >bc</text>
<text x="238.00" y="314.00" font-size="7.5" font-weight="bold" font-style="normal" text-anchor="middle" fill="#111" >a</text>
<text x="255.10" y="337.40" font-size="7.5" font-weight="bold" font-style="normal" text-anchor="middle" fill="#111" >b</text>
<text x="272.20" y="344.30" font-size="7.5" font-weight="bold" font-style="normal" text-anchor="middle" fill="#111" >c</text>
<path d="M192.10,308.50V398.20H280.10" stroke="#111" stroke-width="1.15" fill="none"/>
<path d="M187.90,398.20H192.10" stroke="#111" stroke-width="1.15"/>
<text x="186.90" y="401.60" font-size="7.8" font-weight="normal" font-style="normal" text-anchor="end" fill="#111" >800</text>
<path d="M187.90,380.26H192.10" stroke="#111" stroke-width="1.15"/>
<text x="186.90" y="383.66" font-size="7.8" font-weight="normal" font-style="normal" text-anchor="end" fill="#111" >900</text>
<path d="M187.90,362.32H192.10" stroke="#111" stroke-width="1.15"/>
<text x="186.90" y="365.72" font-size="7.8" font-weight="normal" font-style="normal" text-anchor="end" fill="#111" >1000</text>
<path d="M187.90,344.38H192.10" stroke="#111" stroke-width="1.15"/>
<text x="186.90" y="347.78" font-size="7.8" font-weight="normal" font-style="normal" text-anchor="end" fill="#111" >1100</text>
<path d="M187.90,326.44H192.10" stroke="#111" stroke-width="1.15"/>
<text x="186.90" y="329.84" font-size="7.8" font-weight="normal" font-style="normal" text-anchor="end" fill="#111" >1200</text>
<path d="M187.90,308.50H192.10" stroke="#111" stroke-width="1.15"/>
<text x="186.90" y="311.90" font-size="7.8" font-weight="normal" font-style="normal" text-anchor="end" fill="#111" >1300</text>
<path d="M203.90,398.20V402.00" stroke="#111" stroke-width="1.15"/>
<text x="203.90" y="411.00" font-size="8" font-weight="bold" font-style="normal" text-anchor="middle" fill="#111" >CK</text>
<path d="M221.10,398.20V402.00" stroke="#111" stroke-width="1.15"/>
<text x="221.10" y="411.00" font-size="8" font-weight="bold" font-style="normal" text-anchor="middle" fill="#111" >LT1</text>
<path d="M238.20,398.20V402.00" stroke="#111" stroke-width="1.15"/>
<text x="238.20" y="411.00" font-size="8" font-weight="bold" font-style="normal" text-anchor="middle" fill="#111" >LT2</text>
<path d="M255.30,398.20V402.00" stroke="#111" stroke-width="1.15"/>
<text x="255.30" y="411.00" font-size="8" font-weight="bold" font-style="normal" text-anchor="middle" fill="#111" >LT3</text>
<path d="M272.40,398.20V402.00" stroke="#111" stroke-width="1.15"/>
<text x="272.40" y="411.00" font-size="8" font-weight="bold" font-style="normal" text-anchor="middle" fill="#111" >LT4</text>
<text transform="translate(143.28,322.20) scale(0.879,1)" x="0" y="0" font-size="24.58" font-weight="bold" fill="#111">H</text>
<g transform="translate(168.40,0) rotate(-90)">
<text x="-389.50" y="0.00" font-size="8.5" font-weight="bold" text-anchor="start" textLength="42.30" lengthAdjust="spacingAndGlyphs" fill="#111">AO activity</text>
<text x="-343.10" y="0.00" font-size="7.8" font-weight="bold" text-anchor="middle" fill="#111">(</text>
<text x="-336.60" y="0.00" font-size="8.5" font-weight="bold" text-anchor="middle" fill="#111">U</text>
<text x="-328.60" y="0.00" font-size="8.5" font-weight="bold" text-anchor="middle" fill="#111">L</text>
<text x="-322.80" y="-3.40" font-size="5.5" font-weight="bold" text-anchor="middle" fill="#111">-1</text>
<text x="-318.70" y="0.00" font-size="7.8" font-weight="bold" text-anchor="middle" fill="#111">)</text>
</g>
<rect x="323.80" y="350.90" width="11.80" height="47.00" fill="#61b2c5"/>
<rect x="341.10" y="340.70" width="11.80" height="57.20" fill="#45879a"/>
<rect x="358.30" y="330.20" width="11.80" height="67.70" fill="#f0b86b"/>
<rect x="375.40" y="314.90" width="11.80" height="83.00" fill="#d57a94"/>
<rect x="392.80" y="309.10" width="11.80" height="88.80" fill="#f5b8c6"/>
<path d="M329.70,347.40V354.40M326.95,347.40H332.45M326.95,354.40H332.45" stroke="#2a2a2a" stroke-width="1.0" fill="none"/>
<circle cx="326.70" cy="353.30" r="2.0" fill="#111"/>
<circle cx="329.60" cy="346.70" r="2.0" fill="#111"/>
<circle cx="332.50" cy="352.00" r="2.0" fill="#111"/>
<path d="M347.00,338.57V342.83M344.25,338.57H349.75M344.25,342.83H349.75" stroke="#2a2a2a" stroke-width="1.0" fill="none"/>
<circle cx="343.90" cy="338.20" r="2.0" fill="#111"/>
<circle cx="343.90" cy="342.40" r="2.0" fill="#111"/>
<circle cx="349.30" cy="340.90" r="2.0" fill="#111"/>
<path d="M364.20,323.48V336.92M361.45,323.48H366.95M361.45,336.92H366.95" stroke="#2a2a2a" stroke-width="1.0" fill="none"/>
<circle cx="361.10" cy="325.70" r="2.0" fill="#111"/>
<circle cx="364.00" cy="337.80" r="2.0" fill="#111"/>
<circle cx="367.00" cy="326.70" r="2.0" fill="#111"/>
<path d="M381.30,311.33V318.47M378.55,311.33H384.05M378.55,318.47H384.05" stroke="#2a2a2a" stroke-width="1.0" fill="none"/>
<circle cx="378.50" cy="312.60" r="2.0" fill="#111"/>
<circle cx="381.40" cy="319.30" r="2.0" fill="#111"/>
<circle cx="384.30" cy="313.80" r="2.0" fill="#111"/>
<path d="M398.70,306.87V311.33M395.95,306.87H401.45M395.95,311.33H401.45" stroke="#2a2a2a" stroke-width="1.0" fill="none"/>
<circle cx="395.60" cy="310.40" r="2.0" fill="#111"/>
<circle cx="398.50" cy="306.10" r="2.0" fill="#111"/>
<circle cx="401.40" cy="309.30" r="2.0" fill="#111"/>
<text x="329.60" y="345.40" font-size="7.5" font-weight="bold" font-style="normal" text-anchor="middle" fill="#111" >d</text>
<text x="346.60" y="335.10" font-size="7.5" font-weight="bold" font-style="normal" text-anchor="middle" fill="#111" >c</text>
<text x="364.00" y="325.30" font-size="7.5" font-weight="bold" font-style="normal" text-anchor="middle" fill="#111" >b</text>
<text x="381.40" y="309.50" font-size="7.5" font-weight="bold" font-style="normal" text-anchor="middle" fill="#111" >a</text>
<text x="398.50" y="302.50" font-size="7.5" font-weight="bold" font-style="normal" text-anchor="middle" fill="#111" >a</text>
<path d="M318.20,302.58V397.90H405.60" stroke="#111" stroke-width="1.15" fill="none"/>
<path d="M314.00,397.90H318.20" stroke="#111" stroke-width="1.15"/>
<text x="313.00" y="401.30" font-size="7.5" font-weight="bold" font-style="normal" text-anchor="end" fill="#111" >20</text>
<path d="M314.00,350.24H318.20" stroke="#111" stroke-width="1.15"/>
<text x="313.00" y="353.64" font-size="7.5" font-weight="bold" font-style="normal" text-anchor="end" fill="#111" >40</text>
<path d="M314.00,302.58H318.20" stroke="#111" stroke-width="1.15"/>
<text x="313.00" y="305.98" font-size="7.5" font-weight="bold" font-style="normal" text-anchor="end" fill="#111" >60</text>
<path d="M329.70,397.90V401.70" stroke="#111" stroke-width="1.15"/>
<text x="329.70" y="411.00" font-size="8" font-weight="bold" font-style="normal" text-anchor="middle" fill="#111" >CK</text>
<path d="M347.00,397.90V401.70" stroke="#111" stroke-width="1.15"/>
<text x="347.00" y="411.00" font-size="8" font-weight="bold" font-style="normal" text-anchor="middle" fill="#111" >LT1</text>
<path d="M364.20,397.90V401.70" stroke="#111" stroke-width="1.15"/>
<text x="364.20" y="411.00" font-size="8" font-weight="bold" font-style="normal" text-anchor="middle" fill="#111" >LT2</text>
<path d="M381.30,397.90V401.70" stroke="#111" stroke-width="1.15"/>
<text x="381.30" y="411.00" font-size="8" font-weight="bold" font-style="normal" text-anchor="middle" fill="#111" >LT3</text>
<path d="M398.70,397.90V401.70" stroke="#111" stroke-width="1.15"/>
<text x="398.70" y="411.00" font-size="8" font-weight="bold" font-style="normal" text-anchor="middle" fill="#111" >LT4</text>
<text transform="translate(282.83,322.20) scale(0.890,1)" x="0" y="0" font-size="24.58" font-weight="bold" fill="#111">I</text>
<g transform="translate(302.40,0) rotate(-90)">
<text x="-391.40" y="0.00" font-size="9.2" font-weight="bold" text-anchor="start" textLength="51.90" lengthAdjust="spacingAndGlyphs" fill="#111">XDH activity</text>
<text x="-335.90" y="0.00" font-size="8.3" font-weight="bold" text-anchor="middle" fill="#111">(</text>
<text x="-329.40" y="0.00" font-size="8.5" font-weight="bold" text-anchor="middle" fill="#111">U</text>
<text x="-321.20" y="0.00" font-size="8.5" font-weight="bold" text-anchor="middle" fill="#111">L</text>
<text x="-314.50" y="-5.40" font-size="5.5" font-weight="bold" text-anchor="middle" fill="#111">-1</text>
<text x="-310.00" y="0.00" font-size="8.3" font-weight="bold" text-anchor="middle" fill="#111">)</text>
</g>
<rect x="455.25" y="348.90" width="12.30" height="49.50" fill="#61b2c5"/>
<rect x="473.95" y="344.30" width="12.30" height="54.10" fill="#45879a"/>
<rect x="492.55" y="338.40" width="12.30" height="60.00" fill="#f0b86b"/>
<rect x="511.15" y="320.80" width="12.30" height="77.60" fill="#d57a94"/>
<rect x="529.45" y="325.60" width="12.30" height="72.80" fill="#f5b8c6"/>
<path d="M461.40,346.51V351.29M458.65,346.51H464.15M458.65,351.29H464.15" stroke="#2a2a2a" stroke-width="1.0" fill="none"/>
<circle cx="458.50" cy="346.90" r="2.0" fill="#111"/>
<circle cx="461.50" cy="351.60" r="2.0" fill="#111"/>
<circle cx="464.40" cy="348.50" r="2.0" fill="#111"/>
<path d="M480.10,343.16V345.44M477.35,343.16H482.85M477.35,345.44H482.85" stroke="#2a2a2a" stroke-width="1.0" fill="none"/>
<circle cx="475.40" cy="345.30" r="2.0" fill="#111"/>
<circle cx="480.00" cy="343.20" r="2.0" fill="#111"/>
<circle cx="484.70" cy="343.50" r="2.0" fill="#111"/>
<path d="M498.70,336.81V339.99M495.95,336.81H501.45M495.95,339.99H501.45" stroke="#2a2a2a" stroke-width="1.0" fill="none"/>
<circle cx="494.00" cy="339.30" r="2.0" fill="#111"/>
<circle cx="498.60" cy="336.30" r="2.0" fill="#111"/>
<circle cx="503.50" cy="336.90" r="2.0" fill="#111"/>
<path d="M517.30,318.09V323.51M514.55,318.09H520.05M514.55,323.51H520.05" stroke="#2a2a2a" stroke-width="1.0" fill="none"/>
<circle cx="514.50" cy="319.40" r="2.0" fill="#111"/>
<circle cx="517.30" cy="324.10" r="2.0" fill="#111"/>
<circle cx="520.30" cy="319.40" r="2.0" fill="#111"/>
<path d="M535.60,324.65V326.55M532.85,324.65H538.35M532.85,326.55H538.35" stroke="#2a2a2a" stroke-width="1.0" fill="none"/>
<circle cx="530.90" cy="326.30" r="2.0" fill="#111"/>
<circle cx="535.80" cy="324.40" r="2.0" fill="#111"/>
<circle cx="540.40" cy="325.50" r="2.0" fill="#111"/>
<text x="461.50" y="343.70" font-size="7.5" font-weight="bold" font-style="normal" text-anchor="middle" fill="#111" >e</text>
<text x="480.30" y="337.90" font-size="7.5" font-weight="bold" font-style="normal" text-anchor="middle" fill="#111" >d</text>
<text x="498.20" y="331.70" font-size="7.5" font-weight="bold" font-style="normal" text-anchor="middle" fill="#111" >c</text>
<text x="517.30" y="315.40" font-size="7.5" font-weight="bold" font-style="normal" text-anchor="middle" fill="#111" >a</text>
<text x="535.80" y="319.20" font-size="7.5" font-weight="bold" font-style="normal" text-anchor="middle" fill="#111" >b</text>
<path d="M449.00,303.10V398.40H544.30" stroke="#111" stroke-width="1.15" fill="none"/>
<path d="M444.80,398.40H449.00" stroke="#111" stroke-width="1.15"/>
<text x="443.80" y="401.80" font-size="7.5" font-weight="bold" font-style="normal" text-anchor="end" fill="#111" >0</text>
<path d="M444.80,366.63H449.00" stroke="#111" stroke-width="1.15"/>
<text x="443.80" y="370.03" font-size="7.5" font-weight="bold" font-style="normal" text-anchor="end" fill="#111" >50</text>
<path d="M444.80,334.87H449.00" stroke="#111" stroke-width="1.15"/>
<text x="443.80" y="338.27" font-size="7.5" font-weight="bold" font-style="normal" text-anchor="end" fill="#111" >100</text>
<path d="M444.80,303.10H449.00" stroke="#111" stroke-width="1.15"/>
<text x="443.80" y="306.50" font-size="7.5" font-weight="bold" font-style="normal" text-anchor="end" fill="#111" >150</text>
<path d="M461.40,398.40V402.20" stroke="#111" stroke-width="1.15"/>
<text x="461.40" y="411.00" font-size="8" font-weight="bold" font-style="normal" text-anchor="middle" fill="#111" >CK</text>
<path d="M480.10,398.40V402.20" stroke="#111" stroke-width="1.15"/>
<text x="480.10" y="411.00" font-size="8" font-weight="bold" font-style="normal" text-anchor="middle" fill="#111" >LT1</text>
<path d="M498.70,398.40V402.20" stroke="#111" stroke-width="1.15"/>
<text x="498.70" y="411.00" font-size="8" font-weight="bold" font-style="normal" text-anchor="middle" fill="#111" >LT2</text>
<path d="M517.30,398.40V402.20" stroke="#111" stroke-width="1.15"/>
<text x="517.30" y="411.00" font-size="8" font-weight="bold" font-style="normal" text-anchor="middle" fill="#111" >LT3</text>
<path d="M535.60,398.40V402.20" stroke="#111" stroke-width="1.15"/>
<text x="535.60" y="411.00" font-size="8" font-weight="bold" font-style="normal" text-anchor="middle" fill="#111" >LT4</text>
<text transform="translate(407.13,322.25) scale(0.962,1)" x="0" y="0" font-size="24.66" font-weight="bold" fill="#111">J</text>
<g transform="translate(427.40,0) rotate(-90)">
<text x="-392.00" y="0.00" font-size="9.3" font-weight="bold" text-anchor="start" textLength="44.20" lengthAdjust="spacingAndGlyphs" fill="#111">SO activity</text>
<text x="-343.80" y="0.00" font-size="8.3" font-weight="bold" text-anchor="middle" fill="#111">(</text>
<text x="-337.50" y="0.00" font-size="8.5" font-weight="bold" text-anchor="middle" fill="#111">U</text>
<text x="-327.70" y="0.00" font-size="8.5" font-weight="bold" text-anchor="middle" fill="#111">m</text>
<text x="-320.80" y="0.00" font-size="8.5" font-weight="bold" text-anchor="middle" fill="#111">L</text>
<text x="-315.20" y="-1.40" font-size="5.5" font-weight="bold" text-anchor="middle" fill="#111">-1</text>
<text x="-310.50" y="0.00" font-size="8.3" font-weight="bold" text-anchor="middle" fill="#111">)</text>
</g>
</svg>
</body></html>
